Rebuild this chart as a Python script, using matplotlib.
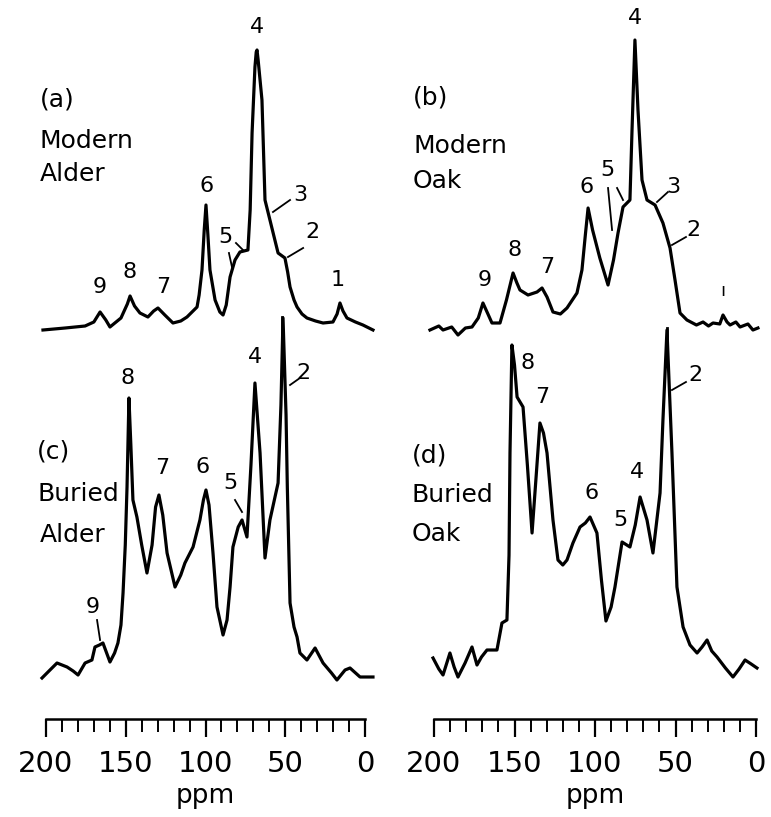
import matplotlib.pyplot as plt
from matplotlib.ticker import MultipleLocator

# 13C CP/MAS NMR spectra (intensity in arbitrary units)
modern_alder_ppm = [201.9, 188.0, 175.5, 170.0, 166.1, 162.5, 159.9, 153.0, 149.0, 147.3,
                    144.5, 141.1, 136.1, 132.5, 129.8, 125.5, 120.4, 115.5, 111.6, 105.3,
                    104.0, 102.2, 100.8, 99.7, 98.5, 97.2, 94.0, 91.0, 89.0, 87.0, 84.6,
                    81.5, 78.4, 73.4, 72.0, 70.8, 69.0, 68.2, 67.7, 67.0, 64.6, 62.7,
                    59.6, 54.5, 50.2, 48.5, 47.0, 44.5, 42.6, 39.5, 36.4, 31.0, 26.3,
                    20.1, 17.5, 15.7, 13.8, 11.3, 6.0, 1.3, -5.0]
modern_alder_int = [0, 2, 4, 8, 18, 10, 3, 12, 26, 34,
                    24, 17, 13, 19, 22, 15, 7, 9, 13, 23,
                    35, 60, 100, 125, 95, 60, 30, 18, 15, 25, 53,
                    70, 78, 80, 120, 197, 263, 278, 280, 270, 230, 130,
                    110, 77, 72, 58, 43, 30, 23, 16, 12, 9, 7,
                    8, 16, 27, 19, 12, 8, 5, 0]

modern_oak_ppm = [202.5, 197.0, 194.4, 189.0, 185.1, 180.5, 176.4, 172.5, 169.6, 166.5,
                  164.0, 159.0, 155.0, 150.9, 148.5, 146.6, 141.6, 136.0, 132.9, 129.8,
                  126.1, 121.5, 117.4, 111.2, 108.1, 106.0, 104.3, 101.5, 97.0, 91.9,
                  88.5, 85.7, 82.6, 78.3, 77.0, 75.2, 73.3, 70.8, 67.7, 62.7, 57.8,
                  53.4, 50.3, 47.2, 42.9, 37.0, 32.9, 29.5, 26.7, 22.5, 20.5, 18.0,
                  16.1, 12.5, 9.9, 5.0, 1.9, -1.2]
modern_oak_int = [0, 4, 0, 3, -5, 2, 3, 12, 27, 16,
                  7, 7, 30, 57, 47, 40, 35, 38, 42, 33,
                  18, 16, 22, 37, 60, 95, 122, 100, 72, 45,
                  70, 97, 123, 130, 200, 290, 220, 150, 130, 125, 107,
                  82, 50, 17, 10, 5, 8, 4, 7, 6, 15, 8,
                  5, 8, 3, 6, 0, 2]

buried_alder_ppm = [202.5, 197.5, 193.1, 186.8, 183.0, 179.9, 175.5, 171.2, 169.3, 166.5,
                    164.3, 159.9, 157.0, 154.9, 153.0, 151.7, 150.3, 149.2, 148.0, 146.8,
                    145.5, 143.0, 140.0, 136.7, 133.5, 131.3, 129.2, 126.8, 124.1, 119.1,
                    115.5, 112.9, 107.8, 103.5, 101.3, 99.7, 97.8, 95.3, 92.8, 89.0, 86.5,
                    84.6, 82.8, 79.5, 77.1, 74.0, 71.5, 69.0, 65.8, 62.7, 59.6, 54.5,
                    52.7, 51.4, 49.5, 48.7, 47.0, 44.5, 42.6, 40.8, 36.4, 31.3, 26.3,
                    21.0, 17.6, 12.5, 9.4, 3.1, -5.0]
buried_alder_int = [-13, -5, 2, -2, -6, -10, 2, 5, 18, 20,
                    22, 3, 12, 22, 40, 72, 120, 178, 267, 220,
                    165, 148, 120, 92, 120, 158, 170, 150, 112, 78,
                    90, 102, 118, 145, 165, 175, 160, 112, 58, 30, 45,
                    78, 118, 138, 145, 128, 200, 282, 212, 107, 145, 182,
                    260, 347, 250, 178, 62, 38, 28, 12, 5, 17, 2,
                    -8, -15, -5, -3, -12, -12]

buried_oak_ppm = [200.6, 197.0, 194.4, 190.1, 187.5, 185.1, 180.7, 176.4, 173.3, 170.5,
                  167.1, 160.9, 157.8, 154.7, 153.4, 152.8, 151.6, 150.0, 148.4, 144.7,
                  142.0, 139.1, 136.5, 134.2, 132.0, 129.8, 126.1, 123.0, 120.0, 117.4,
                  113.7, 109.3, 106.0, 103.1, 98.8, 96.0, 93.2, 90.0, 87.6, 83.2, 78.3,
                  75.0, 72.0, 67.7, 64.0, 59.6, 57.8, 55.3, 52.2, 49.1, 45.3, 41.0,
                  36.6, 33.5, 30.4, 27.5, 24.2, 19.0, 14.3, 10.5, 6.8, 3.0, -0.6]
buried_oak_int = [7, -4, -10, 12, -2, -12, 2, 18, 0, 8,
                  15, 15, 42, 45, 110, 212, 320, 300, 268, 258,
                  200, 132, 190, 242, 232, 212, 145, 105, 100, 105,
                  122, 138, 142, 148, 132, 85, 44, 58, 78, 123, 118,
                  140, 168, 145, 112, 172, 245, 335, 212, 78, 38, 20,
                  12, 18, 25, 14, 8, -3, -12, -4, 5, 1, -3]

W, H = 771, 817
AXIS_Y = 719          # pixel row of the ppm axis line
TOP_BASE = AXIS_Y - 330
BOT_BASE = AXIS_Y - 665

plt.rcParams["font.family"] = ["DejaVu Sans"]
fig = plt.figure(figsize=(W / 100, H / 100), dpi=100)


def make_axes(x0, x1):
    ax = fig.add_axes([x0 / W, (H - AXIS_Y) / H, (x1 - x0) / W, AXIS_Y / H])
    ax.set_xlim(200, 0)
    ax.set_ylim(0, AXIS_Y)
    for s in ("top", "left", "right"):
        ax.spines[s].set_visible(False)
    ax.spines["bottom"].set_linewidth(1.8)
    ax.set_yticks([])
    ax.set_xticks(range(0, 201, 50))
    ax.xaxis.set_minor_locator(MultipleLocator(10))
    ax.tick_params(which="major", length=13, width=1.6, pad=9, labelsize=21)
    ax.tick_params(which="minor", length=9, width=1.4)
    ax.set_xlabel("ppm", fontsize=19, labelpad=4)
    ax.patch.set_alpha(0)
    return ax


def trace(ax, ppm, inten, base):
    ax.plot(ppm, [base + v for v in inten], color="black", lw=2.3,
            solid_joinstyle="round", clip_on=False)


def label(ax, x, y, s, size=16):
    ax.text(x, y, s, fontsize=size, ha="center", va="center")


def leader(ax, xs, ys, lw=1.3):
    ax.plot(xs, ys, color="black", lw=lw)


axL = make_axes(46, 365)
axR = make_axes(434, 756)

trace(axL, modern_alder_ppm, modern_alder_int, TOP_BASE)
trace(axL, buried_alder_ppm, buried_alder_int, BOT_BASE)
trace(axR, modern_oak_ppm, modern_oak_int, TOP_BASE)
trace(axR, buried_oak_ppm, buried_oak_int, BOT_BASE)

# (a) modern alder peak numbers
for x, y, s in [(166.1, 432, "9"), (147.3, 447, "8"), (126.6, 432, "7"), (99.1, 533, "6"),
                (87.8, 482, "5"), (67.7, 692, "4"), (40.8, 524, "3"), (33.2, 487, "2"),
                (16.9, 439, "1")]:
    label(axL, x, y, s)
leader(axL, [85.3, 83.4], [466, 452])
leader(axL, [80.9, 76.5], [476, 469])
leader(axL, [57.7, 47.0], [507, 519])
leader(axL, [48.3, 38.8], [462, 471])
leader(axL, [52.0, 52.0], [379, 402], lw=2)

# (c) buried alder
for x, y, s in [(170.5, 112, "9"), (148.6, 341, "8"), (127.3, 251, "7"), (101.6, 252, "6"),
                (84.6, 236, "5"), (69.0, 362, "4"), (38.9, 346, "2")]:
    label(axL, x, y, s)
leader(axL, [168.0, 166.1], [99, 79])
leader(axL, [81.5, 77.1], [219, 207])
leader(axL, [47.0, 40.8], [334, 341])

# (b) modern oak
for x, y, s in [(168.3, 439, "9"), (149.7, 469, "8"), (129.8, 452, "7"), (105.0, 532, "6"),
                (92.5, 549, "5"), (75.2, 701, "4"), (51.6, 532, "3"), (39.1, 489, "2")]:
    label(axR, x, y, s)
label(axR, 20.5, 428, "ı", size=13)
leader(axR, [91.9, 89.4], [531, 489])
leader(axR, [86.3, 82.6], [531, 519])
leader(axR, [61.5, 54.7], [517, 527])
leader(axR, [52.2, 43.5], [474, 482])
leader(axR, [55.3, 55.3], [379, 391], lw=2)

# (d) buried oak
for x, y, s in [(141.6, 356, "8"), (132.9, 322, "7"), (101.9, 226, "6"), (84.5, 199, "5"),
                (73.9, 247, "4"), (37.9, 344, "2")]:
    label(axR, x, y, s)
leader(axR, [52.2, 43.5], [329, 337])

# panel captions, placed in figure pixels
for x, y, s in [(40, 100, "(a)"), (40, 141, "Modern"), (40, 174, "Alder"),
                (413, 97, "(b)"), (413, 146, "Modern"), (413, 181, "Oak"),
                (37, 452, "(c)"), (37, 494, "Buried"), (40, 535, "Alder"),
                (412, 455, "(d)"), (412, 495, "Buried"), (412, 534, "Oak")]:
    fig.text(x / W, 1 - y / H, s, fontsize=18, ha="left", va="center")

fig.savefig("out.png", dpi=100)
